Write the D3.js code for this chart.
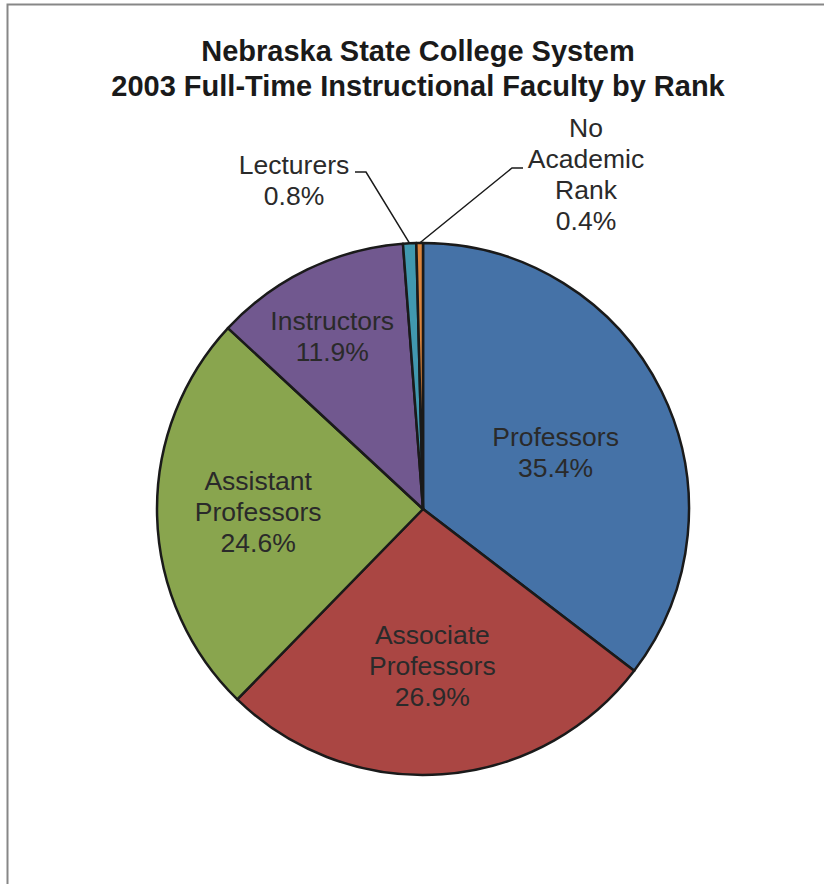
<!DOCTYPE html>
<html><head><meta charset="utf-8">
<script src="https://cdn.jsdelivr.net/npm/d3@7/dist/d3.min.js"></script>
<style>html,body{margin:0;padding:0;background:#fff;}svg{display:block;}</style>
</head><body>
<script>
// ---- data ----
const categories = ["Professors", "Associate Professors", "Assistant Professors", "Instructors", "Lecturers", "No Academic Rank"];
const values = [35.4, 26.9, 24.6, 11.9, 0.8, 0.4];
const labelLines = [["Professors"], ["Associate", "Professors"], ["Assistant", "Professors"], ["Instructors"], ["Lecturers"], ["No", "Academic", "Rank"]];
const titleLines = ["Nebraska State College System", "2003 Full-Time Instructional Faculty by Rank"];

// ---- layout / style ----
const W = 824, H = 884;
const colors = ["#4572A7", "#AA4643", "#89A54E", "#71588F", "#4198AF", "#DB843D"];
const cx = 423, cy = 509, R = 266;
const labelRadiusFrac = [0.56, 0.59, 0.62, 0.76, null, null];
const labelNudge = [[-1, 9], [-2, 0], [0, -1], [-3, 10], [0, 0], [0, 0]];
// outside label anchor offsets (text block center) and leader elbow offsets, relative to pie center
const outside = {
  4: {text: [-129, -329], elbow: [-57, -337], end: [-68, -337]},
  5: {text: [163, -335], elbow: [89, -341], end: [100, -341]}
};
const fontFam = "'Liberation Sans', Arial, Helvetica, sans-serif";
const lineH = 31;

const svg = d3.select("body").append("svg").attr("width", W).attr("height", H);
svg.append("rect").attr("x", 7.5).attr("y", 4.5).attr("width", W + 20).attr("height", H + 20)
  .attr("fill", "#fff").attr("stroke", "#878787").attr("stroke-width", 2);

svg.append("g").selectAll("text").data(titleLines).join("text")
  .attr("x", 418).attr("y", (d, i) => 61 + i * 35)
  .attr("text-anchor", "middle").attr("font-family", fontFam)
  .attr("font-weight", "bold").attr("font-size", 29).attr("fill", "#1a1a1a")
  .text(d => d);

const pie = d3.pie().sort(null).value(d => d)(values);
const arc = d3.arc().innerRadius(0).outerRadius(R);
const g = svg.append("g").attr("transform", `translate(${cx},${cy})`);
g.selectAll("path").data(pie).join("path")
  .attr("d", arc).attr("fill", (d, i) => colors[i])
  .attr("stroke", "#1a1a1a").attr("stroke-width", 2.5).attr("stroke-linejoin", "round");

const fmt = d3.format(".1f");
pie.forEach((d, i) => {
  const lines = labelLines[i].concat([fmt(values[i]) + "%"]);
  let tx, ty;
  if (outside[i]) {
    const o = outside[i];
    [tx, ty] = o.text;
    const mid = (d.startAngle + d.endAngle) / 2;
    const p0 = [R * Math.sin(mid), -R * Math.cos(mid)];
    g.append("polyline")
      .attr("points", [p0, o.elbow, o.end].map(p => p.join(",")).join(" "))
      .attr("fill", "none").attr("stroke", "#1a1a1a").attr("stroke-width", 1.5);
  } else {
    const a = d3.arc().innerRadius(R * labelRadiusFrac[i]).outerRadius(R * labelRadiusFrac[i]);
    [tx, ty] = a.centroid(d);
    tx += labelNudge[i][0]; ty += labelNudge[i][1];
  }
  const t = g.append("text").attr("text-anchor", "middle")
    .attr("font-family", fontFam).attr("font-size", 26.5).attr("fill", "#2a2a2a");
  const n = lines.length;
  lines.forEach((s, k) => {
    t.append("tspan").attr("x", tx).attr("y", ty + (k - (n - 1) / 2) * lineH + 9).text(s);
  });
});
</script>
</body></html>
